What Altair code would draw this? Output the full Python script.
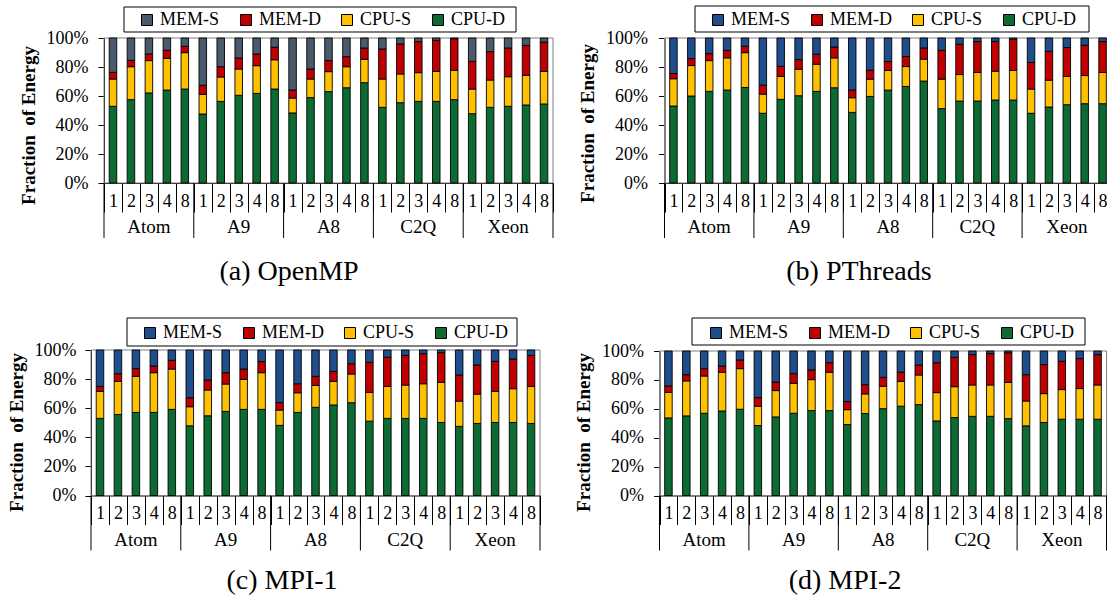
import altair as alt
import pandas as pd

FONT = "Liberation Serif"
W, H = 1107, 601

platforms = ["Atom", "A9", "A8", "C2Q", "Xeon"]
threads = ["1", "2", "3", "4", "8"]
# legend order (top of each stack first)
components = ["MEM-S", "MEM-D", "CPU-S", "CPU-D"]
# stacking order from the baseline upwards
stack_order = ["CPU-D", "CPU-S", "MEM-D", "MEM-S"]

# ---- (a) OpenMP : % of energy per bar, bars ordered Atom 1..8, A9 1..8, A8, C2Q, Xeon
omp_cpu_d = [52.9, 57.5, 62.1, 64.1, 64.8, 47.6, 56.3, 60.5, 61.8, 64.8, 48.3, 58.9, 63.0, 65.7, 69.2,
             52.2, 55.4, 56.3, 56.3, 57.5, 47.8, 52.2, 52.9, 53.8, 54.5]
omp_cpu_s = [18.8, 22.7, 22.3, 21.9, 25.1, 13.5, 16.8, 18.1, 19.1, 20.2, 10.3, 12.8, 13.8, 14.5, 16.1,
             19.5, 19.8, 19.8, 20.7, 20.2, 17.0, 18.8, 20.4, 20.5, 22.5]
omp_mem_d = [4.6, 4.4, 4.6, 5.5, 4.4, 6.3, 7.1, 7.6, 8.1, 8.6, 5.5, 6.9, 7.6, 6.9, 7.8,
             20.7, 20.7, 21.4, 21.4, 21.8, 19.1, 19.6, 19.8, 20.6, 20.2]
omp_mem_s = [23.7, 15.4, 11.0, 8.5, 5.7, 32.6, 19.8, 13.8, 11.0, 6.4, 35.9, 21.4, 15.6, 12.9, 6.9,
             7.6, 4.1, 2.5, 1.6, 0.5, 16.1, 9.4, 6.9, 5.1, 2.8]

# ---- (b) PThreads
pth_cpu_d = [53.1, 60.0, 63.2, 64.1, 65.9, 48.1, 57.7, 60.2, 63.2, 65.7, 48.7, 59.7, 64.1, 66.6, 70.3,
             51.3, 56.5, 56.5, 57.2, 57.2, 48.1, 52.4, 54.0, 54.7, 54.7]
pth_cpu_s = [18.8, 21.0, 21.2, 22.2, 24.0, 13.2, 15.8, 18.3, 18.7, 20.6, 10.1, 11.9, 13.5, 13.7, 15.1,
             20.3, 18.3, 19.7, 19.9, 20.4, 16.7, 18.5, 19.5, 19.4, 21.5]
pth_mem_d = [3.6, 4.8, 4.8, 5.2, 4.4, 6.2, 7.0, 6.6, 6.9, 7.5, 5.3, 6.2, 6.2, 6.9, 7.7,
             19.9, 20.9, 21.3, 20.6, 21.5, 18.3, 19.9, 19.9, 20.9, 21.3]
pth_mem_s = [24.5, 14.2, 10.8, 8.5, 5.7, 32.5, 19.5, 14.9, 11.2, 6.2, 35.9, 22.2, 16.2, 12.8, 6.9,
             8.5, 4.3, 2.5, 2.3, 0.9, 16.9, 9.2, 6.6, 5.0, 2.5]

# ---- (c) MPI-1
mp1_cpu_d = [53.0, 55.7, 57.1, 57.1, 59.2, 47.9, 54.8, 57.8, 59.2, 59.2, 48.2, 57.1, 60.6, 62.2, 63.8,
             51.1, 53.0, 53.0, 53.0, 50.2, 47.5, 49.5, 50.2, 50.2, 49.5]
mp1_cpu_s = [18.6, 22.7, 24.8, 27.3, 27.7, 13.1, 17.7, 18.8, 20.6, 25.2, 10.5, 13.5, 15.1, 16.2, 19.7,
             19.8, 22.0, 22.9, 23.8, 27.6, 17.4, 20.2, 21.4, 23.2, 25.5]
mp1_mem_d = [3.4, 5.3, 5.3, 4.6, 6.0, 6.2, 6.9, 7.8, 7.1, 7.6, 5.1, 6.2, 6.2, 6.9, 7.1,
             20.6, 20.0, 20.4, 20.7, 20.4, 17.9, 20.0, 20.6, 20.4, 21.3]
mp1_mem_s = [25.0, 16.3, 12.8, 11.0, 7.1, 32.8, 20.6, 15.6, 13.1, 8.0, 36.2, 23.2, 18.1, 14.7, 9.4,
             8.5, 5.0, 3.7, 2.5, 1.8, 17.2, 10.3, 7.8, 6.2, 3.7]

# ---- (d) MPI-2
mp2_cpu_d = [53.7, 55.1, 56.9, 58.5, 59.7, 48.4, 54.4, 56.9, 58.8, 58.8, 49.1, 56.7, 60.1, 61.8, 62.9,
             51.6, 53.9, 54.8, 54.8, 53.2, 48.2, 50.5, 52.8, 52.8, 52.8]
mp2_cpu_s = [17.7, 24.2, 25.8, 26.8, 28.1, 13.4, 18.2, 20.7, 21.4, 26.5, 10.3, 13.6, 15.5, 17.2, 20.5,
             19.6, 21.4, 21.7, 21.7, 25.1, 17.2, 20.0, 20.5, 21.2, 23.7]
mp2_mem_d = [4.4, 4.3, 5.1, 4.3, 6.0, 5.9, 6.0, 6.7, 6.7, 6.6, 5.6, 6.4, 6.2, 6.3, 6.9,
             20.7, 20.3, 21.0, 21.7, 20.5, 18.2, 20.1, 19.6, 20.7, 21.0]
mp2_mem_s = [24.2, 16.4, 12.2, 10.4, 6.2, 32.3, 21.4, 15.7, 13.1, 8.1, 35.0, 23.3, 18.2, 14.7, 9.7,
             8.1, 4.4, 2.5, 1.8, 1.2, 16.4, 9.4, 7.1, 5.3, 2.5]

captions = ["(a) OpenMP", "(b) PThreads", "(c) MPI-1", "(d) MPI-2"]

keys = [f"{p}|{t}" for p in platforms for t in threads]

GREEN, YELLOW, RED = "#0b6b33", "#ffc000", "#c00000"
SLATE, BLUE = "#4b596d", "#1f4e8c"


def long_table(cpu_d, cpu_s, mem_d, mem_s):
    series = {"CPU-D": cpu_d, "CPU-S": cpu_s, "MEM-D": mem_d, "MEM-S": mem_s}
    rows = []
    for i, k in enumerate(keys):
        for comp in stack_order:
            rows.append({"key": k, "component": comp,
                         "pos": stack_order.index(comp), "value": series[comp][i]})
    return pd.DataFrame(rows)


def panel(df, caption, mem_s_color, x0, x1, yb, yt, lab_pad, title_y,
          leg_xy, box, cap_xy):
    """One sub-figure placed on the shared canvas: plot area spans x0..x1, yt..yb."""
    xs = alt.Scale(domain=keys, range=[x0, x1], paddingInner=0, paddingOuter=0)
    ys = alt.Scale(domain=[0, 100], range=[yb, yt], nice=False)

    # thin grey frame around the plot area
    frame = alt.Chart(alt.Data(values=[{}])).mark_rect(
        fill="transparent", stroke="#808080", strokeWidth=1
    ).encode(x=alt.value(x0), x2=alt.value(x1), y=alt.value(yt), y2=alt.value(yb))

    # white boxed background for the legend
    legend_box = alt.Chart(alt.Data(values=[{}])).mark_rect(
        fill="white", stroke="black", strokeWidth=1
    ).encode(x=alt.value(box[0]), x2=alt.value(box[1]),
             y=alt.value(box[2]), y2=alt.value(box[3]))

    bars = alt.Chart(df).mark_bar(
        width=alt.RelativeBandSize(0.42), stroke="black", strokeWidth=0.9
    ).encode(
        x=alt.X("key:N", scale=xs, title=None,
                axis=alt.Axis(orient="bottom", offset=yb - H,
                              labelExpr="split(datum.value, '|')[1]", labelAngle=0,
                              tickBand="extent", tickSize=29, tickColor="black",
                              domainColor="black", labelPadding=-20, labelFont=FONT,
                              labelFontSize=18, labelColor="black", grid=False)),
        y=alt.Y("value:Q", stack="zero", scale=ys,
                axis=alt.Axis(orient="left", offset=-x0,
                              values=[0, 20, 40, 60, 80, 100],
                              labelExpr="datum.value + '%'", tickSize=6,
                              tickColor="black", domainColor="black",
                              labelPadding=lab_pad, labelFont=FONT,
                              labelFontSize=18, labelColor="black", grid=False,
                              title="Fraction\u00a0 of Energy", titleFont=FONT,
                              titleFontSize=19, titleFontWeight="bold",
                              titleColor="black", titlePadding=8, titleY=title_y)),
        color=alt.Color("component:N",
                        scale=alt.Scale(domain=components,
                                        range=[mem_s_color, RED, YELLOW, GREEN]),
                        legend=alt.Legend(orient="none", legendX=leg_xy[0],
                                          legendY=leg_xy[1], direction="horizontal",
                                          columnPadding=17, title=None,
                                          symbolType="square", symbolSize=121,
                                          symbolStrokeColor="black",
                                          symbolStrokeWidth=1, symbolOpacity=1,
                                          labelFont=FONT, labelFontSize=18,
                                          labelColor="black", labelOffset=4,
                                          padding=0)),
        order=alt.Order("pos:Q"),
    )

    # long separators between platform groups (two label rows deep)
    starts = pd.DataFrame({"key": [f"{p}|{threads[0]}" for p in platforms]})
    group_lines = alt.Chart(starts).mark_rule(color="black", strokeWidth=1).encode(
        x=alt.X("key:N", scale=xs, bandPosition=0, title=None),
        y=alt.value(yb), y2=alt.value(yb + 55))
    end_line = alt.Chart(pd.DataFrame({"key": [keys[-1]]})).mark_rule(
        color="black", strokeWidth=1).encode(
        x=alt.X("key:N", scale=xs, bandPosition=1, title=None),
        y=alt.value(yb), y2=alt.value(yb + 55))

    mids = pd.DataFrame({"platform": platforms,
                         "key": [f"{p}|{threads[2]}" for p in platforms]})
    plat_labels = alt.Chart(mids).mark_text(
        font=FONT, fontSize=19, baseline="middle", color="black"
    ).encode(x=alt.X("key:N", scale=xs, title=None), y=alt.value(yb + 44),
             text="platform:N")

    cap = alt.Chart(pd.DataFrame({"caption": [caption]})).mark_text(
        font=FONT, fontSize=28, baseline="middle", align="center", color="black"
    ).encode(x=alt.value(cap_xy[0]), y=alt.value(cap_xy[1]), text="caption:N")

    return alt.layer(frame, legend_box, bars, group_lines, end_line, plat_labels, cap)


pa = panel(long_table(omp_cpu_d, omp_cpu_s, omp_mem_d, omp_mem_s), captions[0], SLATE,
           104, 553, 183, 38, 10, 125, (138, 11), (124, 516, 7, 32), (289, 272))
pb = panel(long_table(pth_cpu_d, pth_cpu_s, pth_mem_d, pth_mem_s), captions[1], BLUE,
           664.5, 1111.5, 183, 38, 11, 123, (709, 11), (695, 1089, 6, 32), (859, 272))
pc = panel(long_table(mp1_cpu_d, mp1_cpu_s, mp1_mem_d, mp1_mem_s), captions[2], BLUE,
           91, 540, 495.5, 350, 9, 432, (141, 324), (127, 517, 318, 346), (282, 581))
pd_ = panel(long_table(mp2_cpu_d, mp2_cpu_s, mp2_mem_d, mp2_mem_s), captions[3], BLUE,
            659.5, 1106.5, 495.5, 351, 10, 432, (707, 324), (692, 1085, 318, 345), (845, 581))

chart = alt.layer(pa, pb, pc, pd_).resolve_scale(
    x="independent", y="independent", color="independent"
).resolve_axis(x="independent", y="independent").resolve_legend(
    color="independent"
).properties(width=W, height=H).configure(
    padding=0, autosize=alt.AutoSizeParams(type="none"), background="white", font=FONT
).configure_legend(labelFont=FONT, labelFontSize=18).configure_axis(
    labelFont=FONT, titleFont=FONT
).configure_view(stroke="transparent")

chart.save("out.html", embed_options={"renderer": "svg", "actions": False})
